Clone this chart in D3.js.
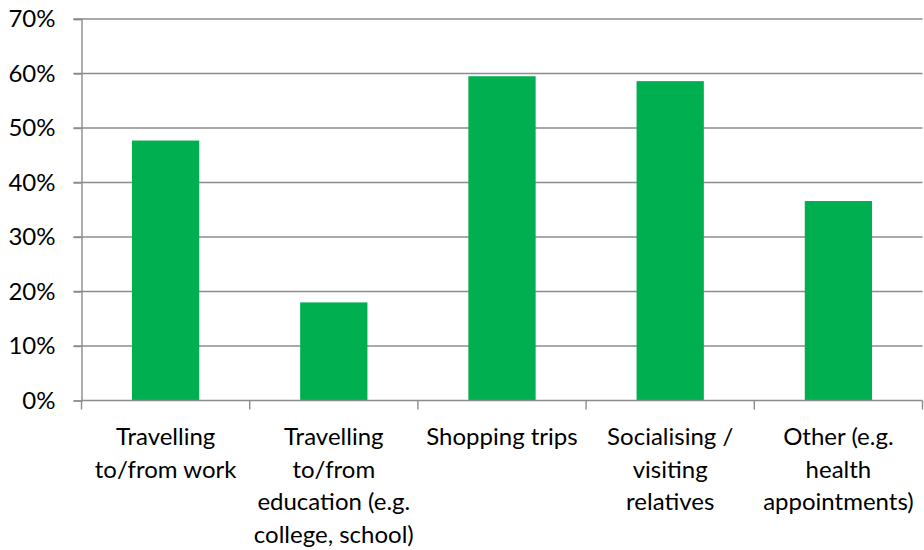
<!DOCTYPE html>
<html>
<head>
<meta charset="utf-8">
<script src="https://cdn.jsdelivr.net/npm/d3@7"></script>
<style>
  html, body { margin: 0; padding: 0; background: #fff; }
  svg text { font-family: Lato, "Open Sans", sans-serif; fill: #000; }
</style>
</head>
<body>
<svg id="chart" width="924" height="550"></svg>
<script>
// Trip purposes (each label split into its display lines)
const categories = [
  ["Travelling", "to/from work"],
  ["Travelling", "to/from", "education (e.g.", "college, school)"],
  ["Shopping trips"],
  ["Socialising /", "visiting", "relatives"],
  ["Other (e.g.", "health", "appointments)"]
];
// Share of respondents, percent
const values = [47.7, 18.0, 59.5, 58.6, 36.6];
// Value axis ticks, percent
const yTicks = [0, 10, 20, 30, 40, 50, 60, 70];

const svg = d3.select("#chart");
const plotLeft = 81.5, plotRight = 922.5, plotTop = 19, plotBottom = 400.5;
const fontSize = 24;

const x = d3.scaleBand()
  .domain(d3.range(categories.length))
  .range([plotLeft, plotRight])
  .paddingInner(0.6)
  .paddingOuter(0.3);

const y = d3.scaleLinear().domain([0, 70]).range([plotBottom, plotTop]);

// Horizontal gridlines
svg.append("g")
  .selectAll("line")
  .data(yTicks.filter(d => d > 0))
  .join("line")
  .attr("x1", plotLeft - 8).attr("x2", plotRight)
  .attr("y1", d => y(d)).attr("y2", d => y(d))
  .attr("stroke", "#8c8c8c").attr("stroke-width", 1.4);

// Bars
svg.append("g")
  .selectAll("rect")
  .data(values)
  .join("rect")
  .attr("x", (d, i) => x(i))
  .attr("width", x.bandwidth())
  .attr("y", d => y(d))
  .attr("height", d => y(0) - y(d))
  .attr("fill", "#00b050");

// Value axis
const yAxis = d3.axisLeft(y)
  .tickValues(yTicks)
  .tickFormat(d => d + "%")
  .tickSize(8)
  .tickPadding(18);
const gy = svg.append("g").attr("transform", `translate(${plotLeft},0)`).call(yAxis);
gy.select(".domain").attr("stroke", "#8c8c8c").attr("stroke-width", 1.4);
gy.selectAll(".tick line").attr("stroke", "#8c8c8c").attr("stroke-width", 1.4);
gy.selectAll(".tick text")
  .attr("font-size", fontSize)
  .attr("font-family", "Lato, 'Open Sans', sans-serif")
  .attr("fill", "#000");

// Category axis: baseline with boundary ticks between categories
const boundaries = d3.range(categories.length + 1)
  .map(i => plotLeft + i * (plotRight - plotLeft) / categories.length);
svg.append("line")
  .attr("x1", plotLeft).attr("x2", plotRight)
  .attr("y1", plotBottom).attr("y2", plotBottom)
  .attr("stroke", "#8c8c8c").attr("stroke-width", 1.4);
svg.append("g")
  .selectAll("line")
  .data(boundaries)
  .join("line")
  .attr("x1", d => d).attr("x2", d => d)
  .attr("y1", plotBottom).attr("y2", plotBottom + 9)
  .attr("stroke", "#8c8c8c").attr("stroke-width", 1.4);

// Category labels
const labels = svg.append("g")
  .selectAll("text")
  .data(categories)
  .join("text")
  .attr("text-anchor", "middle")
  .attr("font-size", fontSize)
  .attr("x", (d, i) => x(i) + x.bandwidth() / 2)
  .attr("y", 445);
labels.selectAll("tspan")
  .data(d => d)
  .join("tspan")
  .attr("x", function () { return this.parentNode.getAttribute("x"); })
  .attr("dy", (d, j) => j === 0 ? 0 : 32.5)
  .text(d => d);
</script>
</body>
</html>
